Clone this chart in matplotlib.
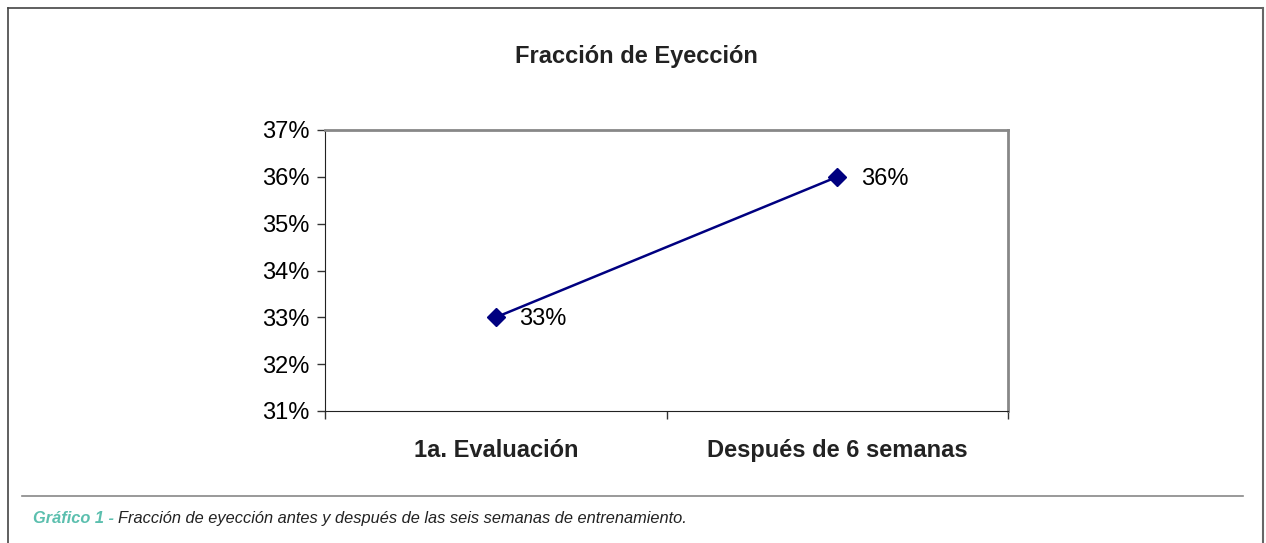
import matplotlib
matplotlib.use('Agg')
import matplotlib.pyplot as plt
from matplotlib.lines import Line2D
from matplotlib.ticker import FuncFormatter, FixedLocator

plt.rcParams['font.family'] = ['Liberation Sans', 'DejaVu Sans']

# datos
categorias = ['1a. Evaluación', 'Después de 6 semanas']
fraccion = [33, 36]
etiquetas = ['33%', '36%']

W, H = 1266, 543
fig = plt.figure(figsize=(W / 100, H / 100), dpi=100)

def fx(px):
    return px / W

def fy(py):
    return 1 - py / H

# marco exterior
fig.add_artist(Line2D([fx(8), fx(8)], [fy(8), 0], color='#444444', lw=1.2))
fig.add_artist(Line2D([fx(8), fx(1263)], [fy(8), fy(8)], color='#444444', lw=1.2))
fig.add_artist(Line2D([fx(1263), fx(1263)], [fy(8), 0], color='#666666', lw=1.5))
# linea del pie
fig.add_artist(Line2D([fx(22), fx(1243)], [fy(496), fy(496)], color='#888888', lw=1.2))

ax = fig.add_axes([fx(325), fy(411), fx(1008) - fx(325), fy(130) - fy(411)])

x = [0.5, 1.5]
ax.plot(x, fraccion, color='#000080', lw=1.8, marker='D', markersize=9,
        markerfacecolor='#000080', markeredgecolor='#000080', zorder=3)
for xi, yi, lab in zip(x, fraccion, etiquetas):
    ax.annotate(lab, (xi, yi), xytext=(17, -1.5), textcoords='offset points',
                va='center', ha='left', fontsize=17, color='black')

ax.set_xlim(0, 2)
ax.set_ylim(31, 37)
ax.yaxis.set_major_locator(FixedLocator(range(31, 38)))
ax.yaxis.set_major_formatter(FuncFormatter(lambda v, p: f'{int(v)}%'))
ax.tick_params(axis='y', labelsize=17, length=6, width=1, color='#333333', pad=5)

# marcas de categoria en los bordes, etiquetas en el centro
ax.xaxis.set_major_locator(FixedLocator([0, 1, 2]))
ax.xaxis.set_major_formatter(FuncFormatter(lambda v, p: ''))
ax.set_xticks(x, minor=True)
ax.set_xticklabels(categorias, minor=True, fontsize=17, fontweight='bold', color='#222222')
ax.tick_params(axis='x', which='major', length=6, width=1, color='#333333')
ax.tick_params(axis='x', which='minor', length=0, pad=20)

ax.spines['left'].set_color('#222222')
ax.spines['bottom'].set_color('#222222')
ax.spines['top'].set_color('#888888')
ax.spines['right'].set_color('#888888')
ax.spines['top'].set_linewidth(2)
ax.spines['right'].set_linewidth(2)

fig.text(fx(636), fy(57), 'Fracción de Eyección', ha='center', va='center',
         fontsize=17, fontweight='bold', color='#222222')

# pie de grafico
t1 = fig.text(fx(33), fy(523), 'Gráfico 1 - ', ha='left', va='baseline',
              fontsize=11.8, style='italic', fontweight='bold', color='#5bbfae')
fig.canvas.draw()
bb = t1.get_window_extent()
fig.text(bb.x1 / W, fy(523), 'Fracción de eyección antes y después de las seis semanas de entrenamiento.',
         ha='left', va='baseline', fontsize=11.8, style='italic', color='#222222')

fig.savefig('out.png', dpi=100)
